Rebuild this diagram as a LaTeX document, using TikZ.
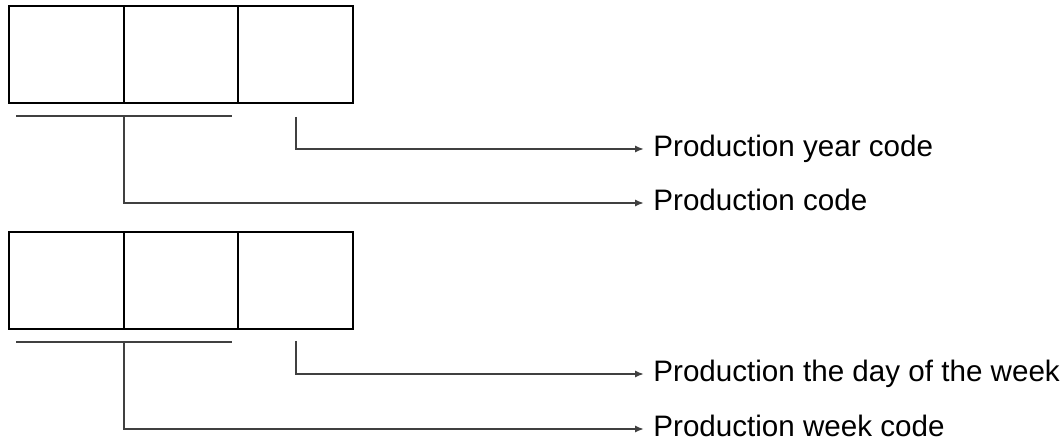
\documentclass[tikz,border=0pt]{standalone}
\usepackage{fontspec}
\setmainfont{Liberation Sans}
\usetikzlibrary{arrows.meta}

\definecolor{linegray}{HTML}{404040}

\tikzset{
  cell/.style={draw=black, line width=1pt, minimum width=57.33pt, minimum height=48.5pt,
               inner sep=0pt, outer sep=0pt},
  conn/.style={draw=linegray, line width=1pt},
  pointer/.style={conn, -{Latex[length=4.5pt, width=3.6pt]}},
  label/.style={anchor=west, inner xsep=4.5pt, inner ysep=0pt, text height=0.716em,
                text depth=0pt, font=\fontsize{14.8}{18}\selectfont}
}

\begin{document}
\begin{tikzpicture}[x=0.5pt, y=-0.5pt]
  \useasboundingbox (0,0) rectangle (1064,448);

  % upper code
  \node[cell] (a1) at (66.33,54.5) {};
  \node[cell] (a2) at (181,54.5) {};
  \node[cell] (a3) at (295.67,54.5) {};
  \draw[conn] (16,116.5) -- (232,116.5);
  \coordinate (ua) at (124,116.5);
  \coordinate (va) at (296,117);
  \node[label] (yearcode) at (644,149) {Production year code};
  \node[label] (prodcode) at (644,203) {Production code};
  \draw[pointer] (va) |- (yearcode.west);
  \draw[pointer] (ua) |- (prodcode.west);

  % lower code
  \node[cell] (b1) at (66.33,280.5) {};
  \node[cell] (b2) at (181,280.5) {};
  \node[cell] (b3) at (295.67,280.5) {};
  \draw[conn] (16,342) -- (232,342);
  \coordinate (ub) at (124,342);
  \coordinate (vb) at (296,341);
  \node[label] (daycode) at (644,374) {Production the day of the week};
  \node[label] (weekcode) at (644,429) {Production week code};
  \draw[pointer] (vb) |- (daycode.west);
  \draw[pointer] (ub) |- (weekcode.west);

\end{tikzpicture}
\end{document}
